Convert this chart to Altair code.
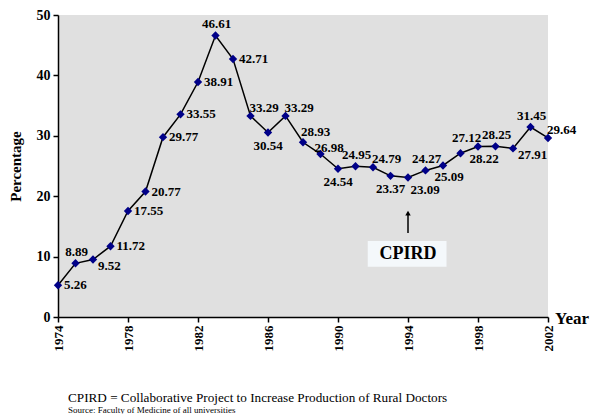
import altair as alt
import pandas as pd

years = list(range(1974, 2003))
values = [5.26, 8.89, 9.52, 11.72, 17.55, 20.77, 29.77, 33.55, 38.91, 46.61,
          42.71, 33.29, 30.54, 33.29, 28.93, 26.98, 24.54, 24.95, 24.79, 23.37,
          23.09, 24.27, 25.09, 27.12, 28.22, 28.25, 27.91, 31.45, 29.64]
# label placement code for each point
placement = ["R", "A", "RB", "R", "R", "R", "R", "R", "R", "A",
             "R", "AR", "B", "AR", "AR3", "AR2", "B", "A", "AR", "B",
             "BR2", "A", "BR", "A2", "BR", "A", "RB", "A", "AR"]

# label styles: code -> (align, dx, dy)
styles = {
    "R": ("left", 6, 0),
    "RB": ("left", 5, 7),
    "A": ("center", 1, -11),
    "A2": ("center", 6, -15),
    "AR": ("left", -1, -8),
    "AR2": ("left", -6, -6),
    "AR3": ("left", -2, -10),
    "B": ("center", 0, 13),
    "BR": ("center", 6, 12),
    "BR2": ("center", 17, 12),
}

df = pd.DataFrame({"year": years, "value": values, "place": placement,
                   "label": [f"{v:.2f}" for v in values]})

ann_year = [1994]
arrow_from = [13.9]
arrow_to = [17.2]
box_x = [1991.7]
box_x2 = [1996.2]
box_y = [8.3]
box_y2 = [12.6]
box_text_y = [10.45]
ann_df = pd.DataFrame({"year": ann_year, "y0": arrow_from, "y1": arrow_to,
                       "bx": box_x, "bx2": box_x2, "by": box_y, "by2": box_y2,
                       "ty": box_text_y, "txt": ["CPIRD"]})

W, H = 490, 302
FONT = "Times New Roman, Liberation Serif, serif"

xs = alt.X("year:Q", scale=alt.Scale(domain=[1974, 2002], nice=False, zero=False),
           axis=alt.Axis(values=years, format="d", labelAngle=270, title=None,
                         labelExpr="datum.value % 2 == 0 ? datum.label : ''",
                         labelFont=FONT, labelFontWeight="bold", labelFontSize=13,
                         labelColor="black", tickSize=5, labelPadding=3,
                         domainColor="black", tickColor="black",
                         domainWidth=1.5, tickWidth=1.5, grid=False))
ys = alt.Y("value:Q", scale=alt.Scale(domain=[0, 50], nice=False),
           axis=alt.Axis(values=list(range(0, 55, 5)), title="Percentage",
                         titleFont=FONT, titleFontWeight="bold", titleFontSize=15,
                         titleColor="black", titlePadding=13,
                         labelFont=FONT, labelFontWeight="bold", labelFontSize=14,
                         labelColor="black", tickSize=5, labelPadding=3,
                         domainColor="black", tickColor="black",
                         domainWidth=1.5, tickWidth=1.5, grid=False))

base = alt.Chart(df)
line = base.mark_line(color="black", strokeWidth=1.5).encode(x=xs, y=ys)
pts = base.mark_point(shape="diamond", filled=True, color="#000088", size=70,
                      opacity=1).encode(x="year:Q", y="value:Q")

layers = [line, pts]
for code, (al, dx, dy) in styles.items():
    layers.append(
        base.transform_filter(alt.datum.place == code)
        .mark_text(font=FONT, fontWeight="bold", fontSize=13, color="black",
                   align=al, baseline="middle", dx=dx, dy=dy)
        .encode(x="year:Q", y="value:Q", text="label:N"))

ann = alt.Chart(ann_df)
box = ann.mark_rect(color="#f4f8fb").encode(x="bx:Q", x2="bx2:Q", y="by:Q", y2="by2:Q")
box_txt = ann.mark_text(font=FONT, fontWeight="bold", fontSize=18, color="black",
                        baseline="middle").encode(x="year:Q", y="ty:Q", text="txt:N")
arrow = ann.mark_rule(color="black", strokeWidth=1.5).encode(x="year:Q", y="y0:Q", y2="y1:Q")
head = ann.mark_point(shape="triangle-up", filled=True, color="black", size=30,
                      opacity=1).encode(x="year:Q", y="y1:Q")

year_lbl = alt.Chart(pd.DataFrame({"t": ["Year"]})).mark_text(
    font=FONT, fontWeight="bold", fontSize=17, color="black", align="left",
    baseline="middle").encode(x=alt.value(W + 7), y=alt.value(H + 2), text="t:N")
foot1 = alt.Chart(pd.DataFrame({"t": ["CPIRD = Collaborative Project to Increase Production of Rural Doctors"]})).mark_text(
    font=FONT, fontSize=13.2, color="black", align="left", baseline="middle"
).encode(x=alt.value(10), y=alt.value(383), text="t:N")
foot2 = alt.Chart(pd.DataFrame({"t": ["Source: Faculty of Medicine of all universities"]})).mark_text(
    font=FONT, fontSize=9, color="black", align="left", baseline="middle"
).encode(x=alt.value(10), y=alt.value(395), text="t:N")

chart = alt.layer(*layers, box, box_txt, arrow, head, year_lbl, foot1, foot2).properties(
    width=W, height=H,
    autosize=alt.AutoSizeParams(type="none"),
    padding={"left": 50, "top": 7, "right": 42, "bottom": 97},
    background="white",
).configure_view(fill="#e0e0e0", strokeWidth=0)

chart.save("out.html", embed_options={"renderer": "svg", "actions": False})
